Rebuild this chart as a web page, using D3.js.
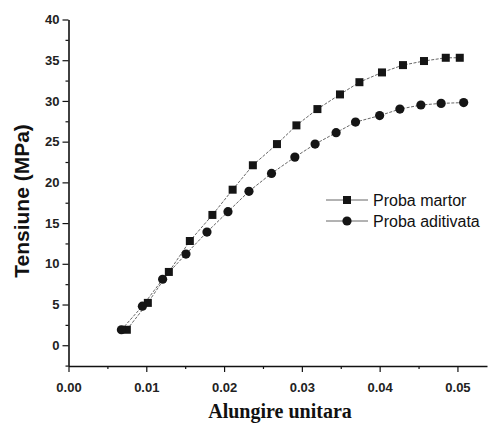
<!DOCTYPE html>
<html>
<head>
<meta charset="utf-8">
<script src="https://cdn.jsdelivr.net/npm/d3@7"></script>
<style>
  body { margin: 0; background: #fff; }
  text { fill: #111; }
</style>
</head>
<body>
<script>
// data
var martorX = [0.0075, 0.0102, 0.0129, 0.0156, 0.0185, 0.0211, 0.0237, 0.0268, 0.0293, 0.0320,
               0.0349, 0.0374, 0.0403, 0.0430, 0.0457, 0.0485, 0.0503];
var martorY = [1.9, 5.2, 9.0, 12.8, 16.0, 19.1, 22.1, 24.7, 27.0, 29.0,
               30.8, 32.3, 33.5, 34.4, 34.9, 35.3, 35.3];
var aditivX = [0.0068, 0.0095, 0.0121, 0.0151, 0.0178, 0.0205, 0.0232, 0.0261, 0.0291, 0.0317,
               0.0344, 0.0369, 0.0400, 0.0426, 0.0453, 0.0479, 0.0508];
var aditivY = [1.9, 4.8, 8.1, 11.2, 13.9, 16.4, 18.9, 21.1, 23.1, 24.7,
               26.1, 27.4, 28.2, 29.0, 29.5, 29.7, 29.8];
var xTicks = [0, 0.01, 0.02, 0.03, 0.04, 0.05];
var xMinor = [0.005, 0.015, 0.025, 0.035, 0.045];
var yTicks = [0, 5, 10, 15, 20, 25, 30, 35, 40];
var yMinor = [-2.5, 2.5, 7.5, 12.5, 17.5, 22.5, 27.5, 32.5, 37.5];
var seriesNames = ["Proba martor", "Proba aditivata"];

var w = 488, h = 423;
var sans = "'Liberation Sans', Arial, sans-serif";
var serif = "'Liberation Serif', 'Times New Roman', serif";
var svg = d3.select("body").append("svg").attr("width", w).attr("height", h);

var xScale = d3.scaleLinear().domain([0, 0.0538]).range([68.5, 487]);
var yScale = d3.scaleLinear().domain([-2.55, 40]).range([366, 19.5]);

// minor ticks first
svg.append("g")
    .attr("transform", "translate(0," + yScale(-2.55) + ")")
    .call(d3.axisBottom(xScale).tickValues(xMinor).tickSize(3).tickSizeOuter(0).tickFormat(""))
    .call(g => g.select(".domain").remove());
svg.append("g")
    .attr("transform", "translate(" + xScale(0) + ",0)")
    .call(d3.axisLeft(yScale).tickValues(yMinor).tickSize(3).tickSizeOuter(0).tickFormat(""))
    .call(g => g.select(".domain").remove());

// X axis
var xAxis = svg.append("g")
    .attr("transform", "translate(0," + yScale(-2.55) + ")")
    .call(d3.axisBottom(xScale).tickValues(xTicks).tickSize(6).tickSizeOuter(0).tickPadding(11)
        .tickFormat(d3.format(".2f")));
xAxis.selectAll("text").style("font-size", "13px").style("font-family", sans)
    .style("font-weight", "bold").style("fill", "#222");

// Y axis
var yAxis = svg.append("g")
    .attr("transform", "translate(" + xScale(0) + ",0)")
    .call(d3.axisLeft(yScale).tickValues(yTicks).tickSize(6).tickSizeOuter(0).tickPadding(3));
yAxis.selectAll("text").style("font-size", "13px").style("font-family", sans)
    .style("font-weight", "bold").style("fill", "#222");

svg.selectAll(".domain").attr("stroke", "#111").attr("stroke-width", 1.6);
svg.selectAll(".tick line").attr("stroke", "#111").attr("stroke-width", 1.2);

// axis titles
svg.append("text")
    .text("Tensiune (MPa)")
    .attr("transform", "translate(29," + 201 + ") rotate(-90)")
    .attr("text-anchor", "middle")
    .style("font-family", sans)
    .style("font-size", "21px")
    .style("font-weight", "bold");

svg.append("text")
    .text("Alungire unitara")
    .attr("x", 280)
    .attr("y", 418)
    .attr("text-anchor", "middle")
    .style("font-family", serif)
    .style("font-size", "20px")
    .style("font-weight", "bold");

// lines
var line = d3.line()
    .x((d) => { return xScale(d[0]); })
    .y((d) => { return yScale(d[1]); });

var martor = d3.zip(martorX, martorY);
var aditiv = d3.zip(aditivX, aditivY);

[martor, aditiv].forEach((data) => {
    svg.append("path")
        .datum(data)
        .attr("d", line)
        .attr("fill", "none")
        .attr("stroke", "#555")
        .attr("stroke-width", 0.9)
        .attr("stroke-dasharray", "3,1.5");
});

// markers
svg.selectAll("rect.martor")
    .data(martor)
    .enter()
    .append("rect")
    .attr("class", "martor")
    .attr("x", (d) => { return xScale(d[0]) - 4; })
    .attr("y", (d) => { return yScale(d[1]) - 4; })
    .attr("width", 8)
    .attr("height", 8)
    .attr("fill", "#151515");

svg.selectAll("circle.aditiv")
    .data(aditiv)
    .enter()
    .append("circle")
    .attr("class", "aditiv")
    .attr("cx", (d) => { return xScale(d[0]); })
    .attr("cy", (d) => { return yScale(d[1]); })
    .attr("r", 4.6)
    .attr("fill", "#151515");

// legend
var legend = svg.append("g").attr("transform", "translate(326,200)");
seriesNames.forEach((name, i) => {
    var g = legend.append("g").attr("transform", "translate(0," + (i * 21) + ")");
    g.append("line")
        .attr("x1", 0).attr("x2", 42).attr("y1", 0).attr("y2", 0)
        .attr("stroke", "#555").attr("stroke-width", 0.9);
    if (i === 0) {
        g.append("rect").attr("x", 17).attr("y", -4).attr("width", 8).attr("height", 8).attr("fill", "#151515");
    } else {
        g.append("circle").attr("cx", 21).attr("cy", 0).attr("r", 4.6).attr("fill", "#151515");
    }
    g.append("text")
        .text(name)
        .attr("x", 47)
        .attr("y", 5.5)
        .style("font-family", sans)
        .style("font-size", "16px");
});
</script>
</body>
</html>
